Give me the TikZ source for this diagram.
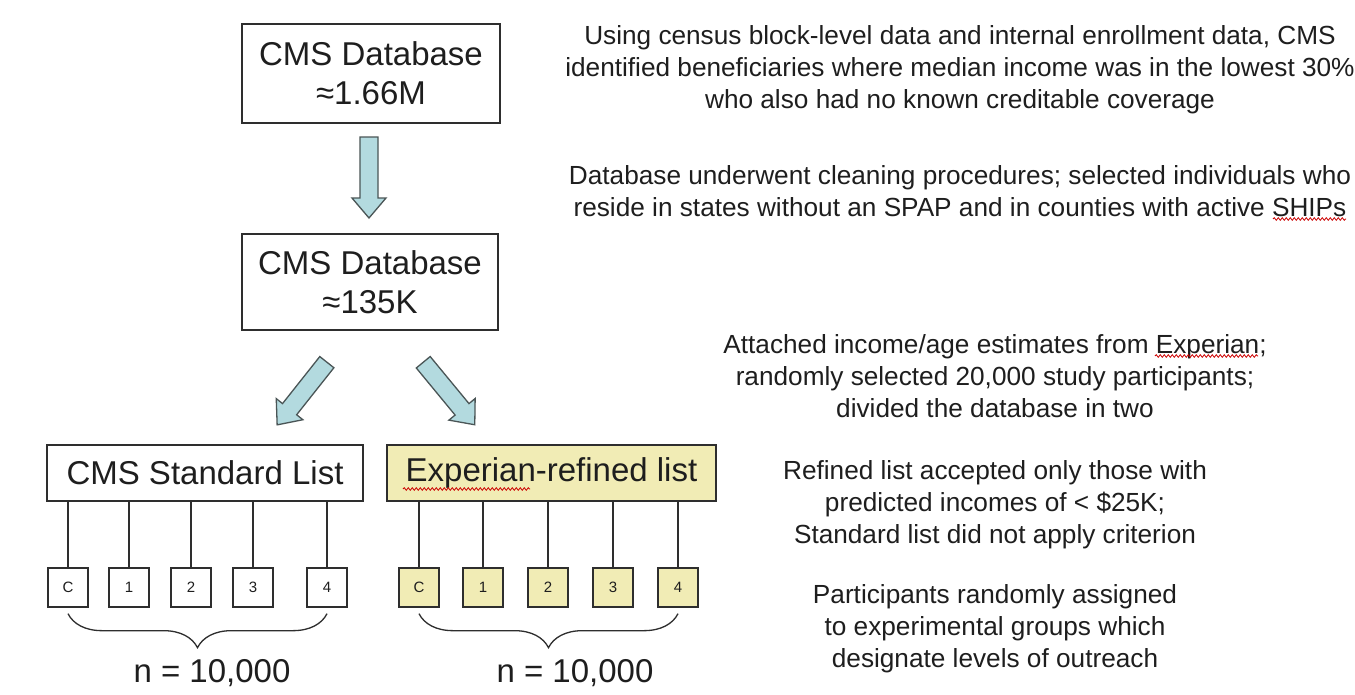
\documentclass[tikz,border=0pt]{standalone}
\usepackage{fontspec}
\setmainfont{Liberation Sans}
\usetikzlibrary{decorations.pathreplacing,decorations.pathmorphing}
\definecolor{boxgray}{HTML}{2E2E2E}
\definecolor{textgray}{HTML}{1E1E1E}
\definecolor{arrowblue}{HTML}{B3DADF}
\definecolor{arrowedge}{HTML}{4A5556}
\definecolor{listyellow}{HTML}{F1ECB5}
\newcommand{\myblockarrow}[4]{%
  \begin{scope}[shift={(#1,#2)},rotate=#3]
    \pgfmathsetmacro{\hl}{#4/2}
    \pgfmathsetmacro{\hb}{#4/2-20}
    \draw[arrowsty] (-\hl,-9) -- (\hb,-9) -- (\hb,-17) -- (\hl,0) -- (\hb,17) -- (\hb,9) -- (-\hl,9) -- cycle;
  \end{scope}}
\begin{document}
\begin{tikzpicture}[x=1pt,y=-1pt,
  box/.style={draw=boxgray,line width=1.6pt,align=center,inner sep=0pt,text=textgray,font=\fontsize{33}{39}\selectfont},
  small/.style={draw=boxgray,line width=1.3pt,minimum width=40pt,minimum height=39pt,inner sep=0pt,text=textgray,font=\fontsize{15}{15}\selectfont},
  desc/.style={align=center,inner sep=0pt,text=textgray,font=\fontsize{26.2}{32}\selectfont},
  nlabel/.style={inner sep=0pt,text=textgray,font=\fontsize{33}{39}\selectfont},
  arrowsty/.style={fill=arrowblue,draw=arrowedge,line width=1.3pt,line join=miter},
  link/.style={draw=boxgray,line width=1.3pt},
  bracesty/.style={draw=boxgray,line width=1.3pt,decorate,decoration={brace,mirror,amplitude=34pt}},
  squig/.style={draw=red!80!black,line width=0.8pt,decorate,decoration={snake,segment length=4pt,amplitude=1.3pt}}
]
\useasboundingbox[fill=white] (0,0) rectangle (1355,694);

% main boxes
\node[box,minimum width=258pt,minimum height=99pt] (db1) at (371,73.5) {CMS Database\\≈1.66M};
\node[box,minimum width=256pt,minimum height=96pt] (db2) at (370,282) {CMS Database\\≈135K};
\node[box,minimum width=316pt,minimum height=56pt] (std) at (205,473) {CMS Standard List};
\node[box,fill=listyellow,minimum width=329pt,minimum height=56pt] (exp) at (551.5,473) {Experian-refined list};

% block arrows
\myblockarrow{369}{177.5}{-90}{81}
\myblockarrow{302}{393.5}{-128.4}{80}
\myblockarrow{449}{393.5}{-50.5}{81}

% small group boxes
\foreach \lab/\x [count=\i] in {C/68,1/129,2/191,3/253,4/327} {
  \node[small] (s\i) at (\x,587.5) {\lab};
  \draw[link] (s\i.north) -- (s\i.north |- std.south);
}
\foreach \lab/\x [count=\i] in {C/419,1/483,2/548,3/613,4/678} {
  \node[small,fill=listyellow] (e\i) at (\x,587.5) {\lab};
  \draw[link] (e\i.north) -- (e\i.north |- exp.south);
}

% braces
\draw[bracesty] ([yshift=-6pt]s1.south) -- ([yshift=-6pt]s5.south);
\draw[bracesty] ([yshift=-6pt]e1.south) -- ([yshift=-6pt]e5.south);
\node[nlabel] (nl) at (212,673) {n = 10,000};
\node[nlabel] (nr) at (575,673) {n = 10,000};

% descriptions
\node[desc] (d1) at (960,70) {Using census block-level data and internal enrollment data, CMS\\identified beneficiaries where median income was in the lowest 30\%\\who also had no known creditable coverage};
\node[desc] (d2) at (960,191) {Database underwent cleaning procedures; selected individuals who\\reside in states without an SPAP and in counties with active SHIPs};
\node[desc] (d3) at (995,376) {Attached income/age estimates from Experian;\\randomly selected 20,000 study participants;\\divided the database in two};
\node[desc] (d4) at (995,505) {Refined list accepted only those with\\predicted incomes of < \$25K;\\Standard list did not apply criterion};
\node[desc] (d5) at (995,629) {Participants randomly assigned\\to experimental groups which\\designate levels of outreach};

% spell-check marks
\draw[squig] (403,489) -- (530,489);
\draw[squig] (1273,219) -- (1346,219);
\draw[squig] (1155,356) -- (1258,356);
\end{tikzpicture}
\end{document}
